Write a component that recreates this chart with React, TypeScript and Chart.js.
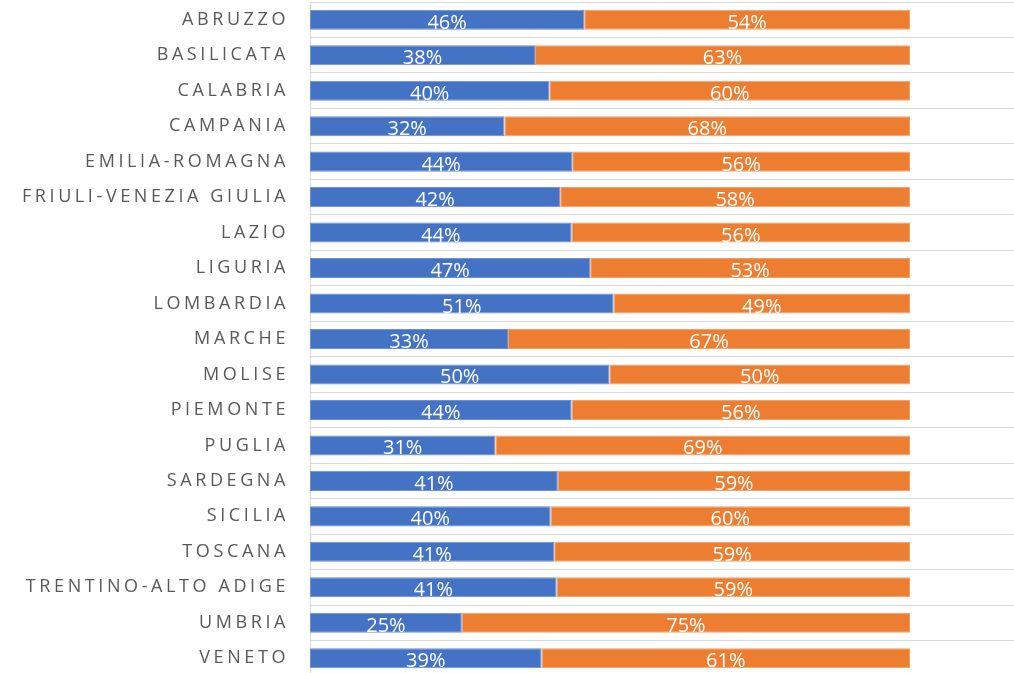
import React, { useEffect, useRef } from "react";
import { Chart, registerables } from "chart.js";

Chart.register(...registerables);

const categories = [
  "ABRUZZO",
  "BASILICATA",
  "CALABRIA",
  "CAMPANIA",
  "EMILIA-ROMAGNA",
  "FRIULI-VENEZIA GIULIA",
  "LAZIO",
  "LIGURIA",
  "LOMBARDIA",
  "MARCHE",
  "MOLISE",
  "PIEMONTE",
  "PUGLIA",
  "SARDEGNA",
  "SICILIA",
  "TOSCANA",
  "TRENTINO-ALTO ADIGE",
  "UMBRIA",
  "VENETO",
];

const serieBlu = [45.7, 37.5, 39.9, 32.4, 43.7, 41.7, 43.6, 46.7, 50.6, 33.0, 49.9, 43.6, 30.9, 41.3, 40.1, 40.7, 41.1, 25.3, 38.6];
const serieArancio = [54.3, 62.5, 60.1, 67.6, 56.3, 58.3, 56.4, 53.3, 49.4, 67.0, 50.1, 56.4, 69.1, 58.7, 59.9, 59.3, 58.9, 74.7, 61.4];

const FONT = "'Open Sans', 'DejaVu Sans', sans-serif";

const letterSpacingPlugin = {
  id: "tickLetterSpacing",
  beforeDraw(chart: any) {
    (chart.ctx as any).letterSpacing = "3.6px";
  },
  beforeDatasetsDraw(chart: any) {
    (chart.ctx as any).letterSpacing = "0px";
  },
  afterDraw(chart: any) {
    (chart.ctx as any).letterSpacing = "0px";
  },
};

const valueLabelPlugin = {
  id: "valueLabels",
  afterDatasetsDraw(chart: any) {
    const ctx = chart.ctx;
    ctx.save();
    (ctx as any).letterSpacing = "0px";
    ctx.font = `20px ${FONT}`;
    ctx.fillStyle = "#ffffff";
    ctx.textAlign = "center";
    ctx.textBaseline = "alphabetic";
    chart.data.datasets.forEach((ds: any, di: number) => {
      const meta = chart.getDatasetMeta(di);
      meta.data.forEach((el: any, i: number) => {
        const p = el.getProps(["x", "y", "base"], true);
        const cx = (p.x + p.base) / 2;
        const v = ds.data[i];
        ctx.fillText(`${Math.round(v)}%`, cx, p.y + 9);
      });
    });
    ctx.restore();
  },
};

export default function App() {
  const ref = useRef<HTMLCanvasElement | null>(null);

  useEffect(() => {
    if (!ref.current) return;
    const chart = new Chart(ref.current, {
      type: "bar",
      data: {
        labels: categories,
        datasets: [
          {
            label: "Serie 1",
            data: serieBlu,
            backgroundColor: "#4472C4",
            borderColor: "#6d90d2",
            borderWidth: 1,
            borderSkipped: false,
          },
          {
            label: "Serie 2",
            data: serieArancio,
            backgroundColor: "#ED7D31",
            borderColor: "#f2a06a",
            borderWidth: 1,
            borderSkipped: false,
          },
        ],
      },
      options: {
        indexAxis: "y",
        responsive: false,
        animation: false,
        devicePixelRatio: 1,
        layout: { padding: { top: 2, right: 0, bottom: 0, left: 0 } },
        datasets: {
          bar: { categoryPercentage: 1, barPercentage: 0.565 },
        },
        plugins: {
          legend: { display: false },
          tooltip: { enabled: false },
        },
        scales: {
          x: {
            display: false,
            stacked: true,
            min: 0,
            max: 117.33,
          },
          y: {
            stacked: true,
            grid: {
              color: "#d9d9d9",
              lineWidth: 1,
              drawTicks: false,
              offset: true,
            },
            border: { display: true, color: "#d9d9d9", width: 1 },
            ticks: {
              color: "#595959",
              font: { family: FONT, size: 18 },
              padding: 21,
            },
            afterFit(scale: any) {
              scale.width = 310;
              scale.paddingTop = 0;
              scale.paddingBottom = 0;
            },
          },
        },
      } as any,
      plugins: [letterSpacingPlugin, valueLabelPlugin],
    });
    return () => chart.destroy();
  }, []);

  return (
    <div
      style={{
        position: "fixed",
        left: 0,
        top: 0,
        width: 1014,
        height: 673,
        overflow: "hidden",
        background: "#ffffff",
      }}
    >
      <canvas ref={ref} width={1014} height={676} style={{ display: "block" }} />
    </div>
  );
}
